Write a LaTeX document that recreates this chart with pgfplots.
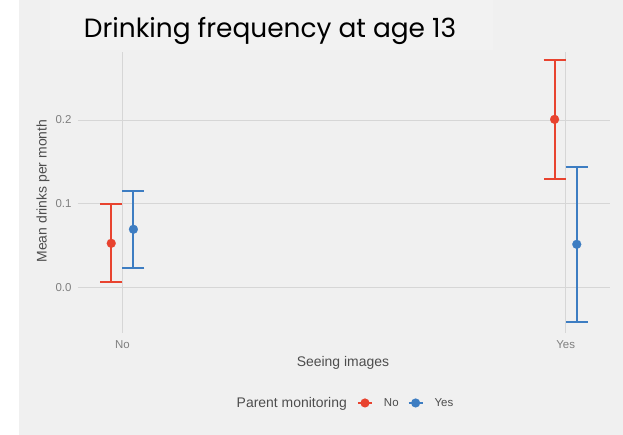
\documentclass[border=0pt]{standalone}
\usepackage{fontspec}
\setmainfont{Liberation Sans}
\newfontfamily\titlefont{Poppins}
\usepackage{pgfplots}
\pgfplotsset{compat=1.18}
\definecolor{bgout}{HTML}{F0F0F0}
\definecolor{bgtitle}{HTML}{F2F2F2}
\definecolor{gridc}{HTML}{D6D6D6}
\definecolor{redc}{HTML}{E8432F}
\definecolor{bluec}{HTML}{3D7DC2}
\definecolor{ticktxt}{HTML}{7F7F7F}
\definecolor{labtxt}{HTML}{4D4D4D}
\pgfplotstableread{
x y ep em
0.975 0.0532 0.0468 0.0464
1.975 0.2008 0.0712 0.0714
}\redtab
\pgfplotstableread{
x y ep em
1.025 0.0699 0.0459 0.0461
2.025 0.0520 0.0920 0.0928
}\bluetab
\begin{document}
\begin{tikzpicture}[x=1bp,y=1bp]
\fill[white] (-78,-102) rectangle (545,333);
\fill[bgout] (-59,-102) rectangle (545,333);
\fill[bgtitle] (-28,283) rectangle (415,333);
\useasboundingbox (-78,-102) rectangle (545,333);
\begin{axis}[
  at={(0,0)}, anchor=south west, scale only axis,
  width=532bp, height=281bp,
  xmin=0.9, xmax=2.1, ymin=-0.0536, ymax=0.281,
  axis line style={draw=none},
  major tick length=0pt,
  grid=major,
  grid style={gridc, line width=1bp},
  xtick={1,2}, xticklabels={No,Yes},
  ytick={0,0.1,0.2}, yticklabels={0.0,0.1,0.2},
  tick label style={text=ticktxt, font=\fontsize{11.5}{13}\selectfont},
  xticklabel style={yshift=-4bp},
  yticklabel style={xshift=-3bp},
  xlabel={Seeing images},
  ylabel={Mean drinks per month},
  label style={text=labtxt, font=\fontsize{14}{16}\selectfont},
  xlabel style={at={(axis description cs:0.498,-0.107)}, anchor=center},
  ylabel style={at={(axis description cs:-0.0658,0.505)}, anchor=center},
  legend columns=2,
  legend style={draw=none, fill=none, inner sep=0pt, outer sep=0pt,
    at={(axis description cs:0.5244,-0.249)}, anchor=west,
    nodes={inner sep=0pt, text=labtxt, font=\fontsize{11.5}{13}\selectfont},
    /tikz/every odd column/.append style={column sep=11bp},
    /tikz/every even column/.append style={column sep=9bp}},
  legend image code/.code={\draw[#1] (0bp,0bp) -- (14bp,0bp); \fill[#1] (7bp,0bp) circle (3.5bp);},
]
\addlegendimage{redc, line width=2bp}
\addlegendentry{No}
\addlegendimage{bluec, line width=2bp}
\addlegendentry{Yes}
\addplot[forget plot, redc, only marks, mark=*, mark size=4.5bp, mark options={fill=redc, draw=redc, line width=0.1pt},
  error bars/.cd, y dir=both, y explicit,
  error bar style={solid, redc, line width=2bp},
  error mark options={solid, redc, line width=2bp, mark size=11bp, rotate=90}]
  table[x=x, y=y, y error plus=ep, y error minus=em] {\redtab};
\addplot[forget plot, bluec, only marks, mark=*, mark size=4.5bp, mark options={fill=bluec, draw=bluec, line width=0.1pt},
  error bars/.cd, y dir=both, y explicit,
  error bar style={solid, bluec, line width=2bp},
  error mark options={solid, bluec, line width=2bp, mark size=11bp, rotate=90}]
  table[x=x, y=y, y error plus=ep, y error minus=em] {\bluetab};
\end{axis}
\node[anchor=mid east, inner sep=0pt, text=labtxt, font=\fontsize{14}{16}\selectfont] at (269,-72) {Parent monitoring};
\node[anchor=base, inner sep=0pt, font=\titlefont\fontsize{26.5}{32}\selectfont] at (192,295) {Drinking frequency at age 13};
\end{tikzpicture}
\end{document}
